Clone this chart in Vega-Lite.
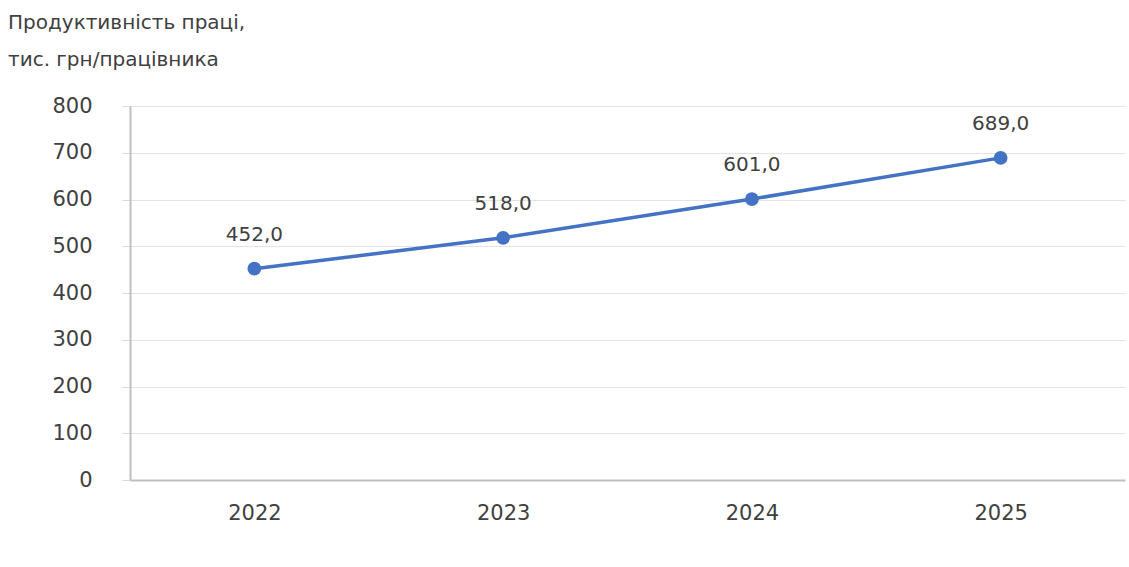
{
  "$schema": "https://vega.github.io/schema/vega-lite/v6.json",
  "autosize": "none",
  "width": 995,
  "height": 374,
  "padding": {"left": 130, "top": 106, "right": 4, "bottom": 87},
  "background": "white",
  "title": {
    "text": ["Продуктивність праці,", "тис. грн/працівника"],
    "anchor": "start",
    "frame": "group",
    "dx": -122,
    "offset": 25,
    "font": "DejaVu Sans",
    "fontSize": 20,
    "fontWeight": "normal",
    "color": "#404040",
    "lineHeight": 37
  },
  "config": {
    "locale": {"number": {"decimal": ",", "thousands": " ", "grouping": [3], "currency": ["", ""]}},
    "view": {"stroke": null},
    "font": "DejaVu Sans"
  },
  "data": {
    "values": [
      {"year": "2022", "value": 452.0},
      {"year": "2023", "value": 518.0},
      {"year": "2024", "value": 601.0},
      {"year": "2025", "value": 689.0}
    ]
  },
  "encoding": {
    "x": {
      "field": "year",
      "type": "ordinal",
      "scale": {"type": "point", "padding": 0.5},
      "axis": {
        "title": null,
        "labelAngle": 0,
        "labelFont": "DejaVu Sans",
        "labelFontSize": 21,
        "labelColor": "#404040",
        "labelPadding": 22,
        "ticks": false,
        "domainColor": "#bfbfbf",
        "domainWidth": 2,
        "grid": false
      }
    },
    "y": {
      "field": "value",
      "type": "quantitative",
      "scale": {"domain": [0, 800]},
      "axis": {
        "title": null,
        "values": [0, 100, 200, 300, 400, 500, 600, 700, 800],
        "labelFont": "DejaVu Sans",
        "labelFontSize": 21,
        "labelColor": "#404040",
        "labelPadding": 30,
        "tickSize": 8,
        "tickColor": "#d9d9d9",
        "domainColor": "#bfbfbf",
        "domainWidth": 2,
        "gridColor": "#e3e3e3",
        "gridWidth": 1,
        "format": "d"
      }
    }
  },
  "layer": [
    {"mark": {"type": "line", "color": "#4472c4", "strokeWidth": 3.5}},
    {"mark": {"type": "point", "filled": true, "opacity": 1, "color": "#4472c4", "size": 190}},
    {
      "mark": {"type": "text", "dy": -34, "font": "DejaVu Sans", "fontSize": 20, "color": "#404040"},
      "encoding": {"text": {"field": "value", "type": "quantitative", "format": ".1f"}}
    }
  ]
}
